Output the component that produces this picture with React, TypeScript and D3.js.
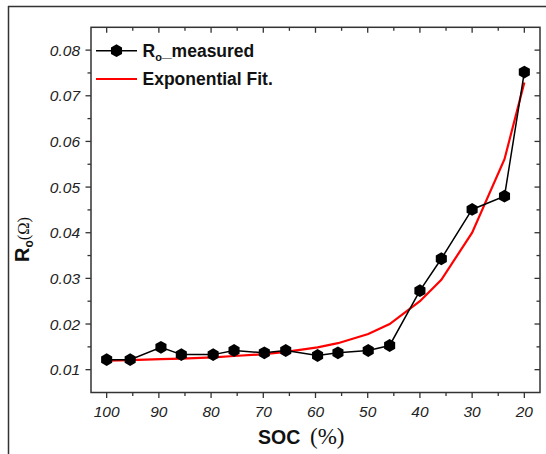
import React from "react";
import * as d3 from "d3";

const socValues = [100, 95.5, 89.6, 85.7, 79.6, 75.6, 69.8, 65.7, 59.6, 55.7, 49.9, 45.8, 40, 35.9, 30, 23.8, 20];
const roMeasured = [0.0122, 0.0122, 0.0149, 0.0133, 0.0133, 0.0142, 0.0137, 0.0142, 0.0131, 0.0137, 0.0142, 0.0153, 0.0273, 0.0343, 0.0451, 0.048, 0.0752];
const roFit = [0.012, 0.0121, 0.0123, 0.0124, 0.0127, 0.013, 0.0134, 0.0139, 0.0149, 0.0158, 0.0178, 0.02, 0.025, 0.0297, 0.04, 0.0561, 0.0729];
const xTicks = [100, 90, 80, 70, 60, 50, 40, 30, 20];
const xMinorTicks = [95, 85, 75, 65, 55, 45, 35, 25];
const yTicks = [0.01, 0.02, 0.03, 0.04, 0.05, 0.06, 0.07, 0.08];
const yMinorTicks = [0.015, 0.025, 0.035, 0.045, 0.055, 0.065, 0.075];

const W = 546;
const H = 454;
const L = 91, R = 540, T = 27.3, B = 392.5;

function hexPath(cx: number, cy: number, r: number) {
  const pts: string[] = [];
  for (let i = 0; i < 6; i++) {
    const a = Math.PI / 2 + (i * Math.PI) / 3;
    pts.push(`${cx + r * Math.cos(a)},${cy - r * Math.sin(a)}`);
  }
  return "M" + pts.join("L") + "Z";
}

export default function App() {
  const x = d3.scaleLinear().domain([103, 17]).range([L, R]);
  const y = d3.scaleLinear().domain([0.005, 0.085]).range([B, T]);
  const idx = d3.range(socValues.length);
  const line = d3
    .line<number>()
    .x((i) => x(socValues[i]))
    .y((i) => y(roMeasured[i]));
  const fitLine = d3
    .line<number>()
    .x((i) => x(socValues[i]))
    .y((i) => y(roFit[i]));
  const axisColor = "#333";
  const sans = "Arial, 'Liberation Sans', sans-serif";
  const serif = "'Liberation Serif', 'Times New Roman', serif";

  return (
    <svg
      width={W}
      height={H}
      viewBox={`0 0 ${W} ${H}`}
      style={{ position: "absolute", left: 0, top: 0, background: "#fff" }}
    >
      {/* outer frame */}
      <line x1={8} y1={6.5} x2={W} y2={6.5} stroke={axisColor} strokeWidth={1.5} />
      <line x1={8.5} y1={6} x2={8.5} y2={H} stroke={axisColor} strokeWidth={1.5} />

      {/* fit line */}
      <path d={fitLine(idx) || ""} fill="none" stroke="#ff0000" strokeWidth={2.2} />
      {/* measured */}
      <path d={line(idx) || ""} fill="none" stroke="#000" strokeWidth={1.5} />
      {idx.map((i) => (
        <path key={i} d={hexPath(x(socValues[i]), y(roMeasured[i]), 6.4)} fill="#000" />
      ))}

      {/* axes frame */}
      <rect x={L} y={T} width={R - L} height={B - T} fill="none" stroke={axisColor} strokeWidth={1.5} />

      {/* x ticks */}
      {xTicks.map((t) => (
        <g key={"xt" + t}>
          <line x1={x(t)} x2={x(t)} y1={B} y2={B + 5.5} stroke={axisColor} strokeWidth={1.3} />
          <line x1={x(t)} x2={x(t)} y1={T} y2={T + 5.5} stroke={axisColor} strokeWidth={1.3} />
          <text
            x={x(t)}
            y={416.5}
            textAnchor="middle"
            fontFamily={sans}
            fontStyle="italic"
            fontSize={15.5}
            fill="#222"
          >
            {t}
          </text>
        </g>
      ))}
      {xMinorTicks.map((t) => (
        <g key={"xm" + t}>
          <line x1={x(t)} x2={x(t)} y1={B} y2={B + 3.5} stroke={axisColor} strokeWidth={1.3} />
          <line x1={x(t)} x2={x(t)} y1={T} y2={T + 3.5} stroke={axisColor} strokeWidth={1.3} />
        </g>
      ))}

      {/* y ticks */}
      {yTicks.map((t) => (
        <g key={"yt" + t}>
          <line x1={L - 5.5} x2={L} y1={y(t)} y2={y(t)} stroke={axisColor} strokeWidth={1.3} />
          <line x1={R - 5.5} x2={R} y1={y(t)} y2={y(t)} stroke={axisColor} strokeWidth={1.3} />
          <text
            x={80}
            y={y(t) + 5.5}
            textAnchor="end"
            fontFamily={sans}
            fontStyle="italic"
            fontSize={15.5}
            fill="#222"
          >
            {t.toFixed(2)}
          </text>
        </g>
      ))}
      {yMinorTicks.map((t) => (
        <g key={"ym" + t}>
          <line x1={L - 3.5} x2={L} y1={y(t)} y2={y(t)} stroke={axisColor} strokeWidth={1.3} />
          <line x1={R - 3.5} x2={R} y1={y(t)} y2={y(t)} stroke={axisColor} strokeWidth={1.3} />
        </g>
      ))}

      {/* legend */}
      <line x1={96} x2={137} y1={50.7} y2={50.7} stroke="#000" strokeWidth={1.5} />
      <path d={hexPath(116.5, 50.7, 6.4)} fill="#000" />
      <text x={142.5} y={56.5} fontFamily={sans} fontWeight="bold" fontSize={17.5} fill="#111">
        R
        <tspan fontSize={11} dy={4}>o</tspan>
        <tspan fontSize={17.5} dy={-4}>_measured</tspan>
      </text>
      <line x1={96} x2={137} y1={79} y2={79} stroke="#ff0000" strokeWidth={2.2} />
      <text x={142.5} y={85} fontFamily={sans} fontWeight="bold" fontSize={17.5} fill="#111">
        Exponential Fit.
      </text>

      {/* axis titles */}
      <text x={258} y={444} fontFamily={sans} fontWeight="bold" fontSize={19.5} fill="#111">
        SOC
        <tspan fontFamily={serif} fontWeight="normal" fontSize={23} dx={4}> (%)</tspan>
      </text>
      <text
        transform="translate(28.5,262) rotate(-90)"
        fontFamily={sans}
        fontWeight="bold"
        fontSize={20}
        fill="#111"
      >
        R
        <tspan fontSize={12} dy={4}>o</tspan>
        <tspan fontFamily={serif} fontWeight="normal" fontSize={16.5} dy={-4}>(Ω)</tspan>
      </text>
    </svg>
  );
}
